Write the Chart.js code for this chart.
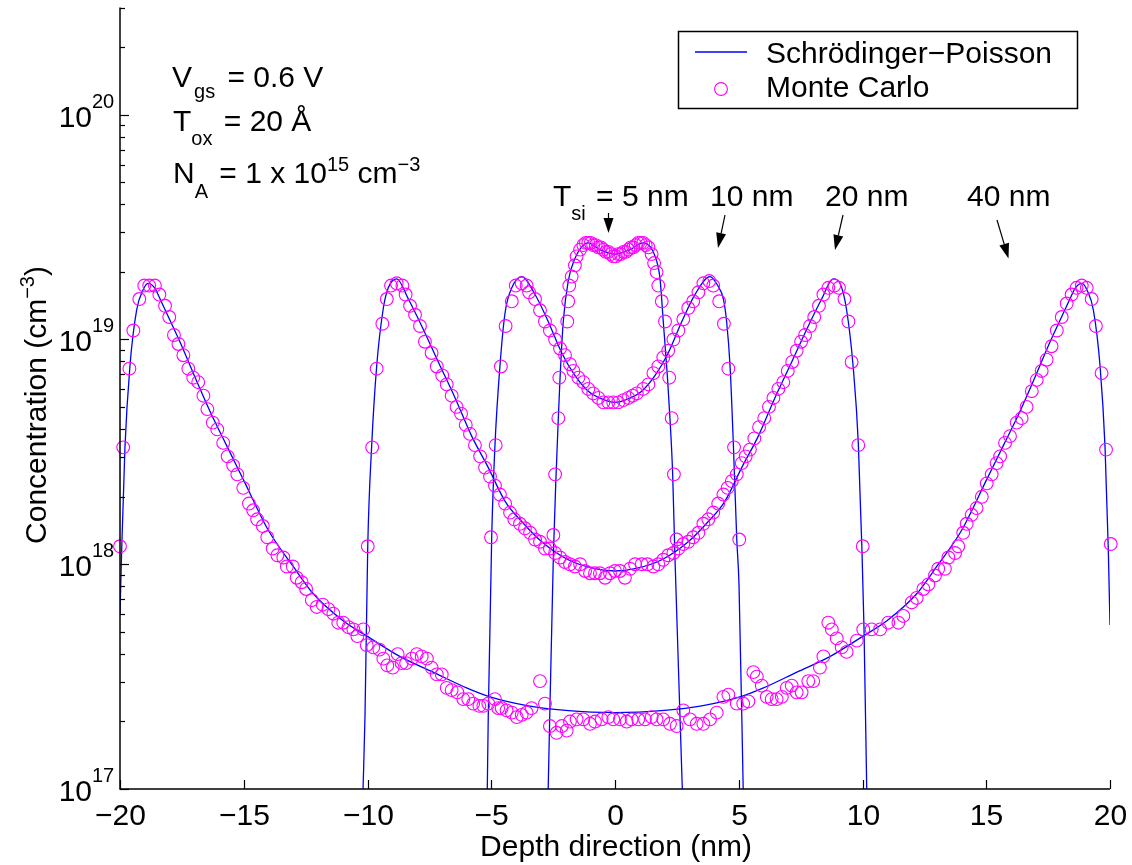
<!DOCTYPE html>
<html>
<head>
<meta charset="utf-8">
<title>Electron concentration vs depth</title>
<script src="https://cdn.jsdelivr.net/npm/chart.js@4.4.1/dist/chart.umd.min.js"></script>
<style>
  html, body { margin: 0; padding: 0; background: #fff; }
  #wrap { width: 1132px; height: 865px; }
</style>
</head>
<body>
<div id="wrap"><canvas id="chart" width="1132" height="865"></canvas></div>
<script>
// Values: [depth (nm), log10 concentration (cm^-3)]

// Schrödinger-Poisson curves, one per silicon thickness
const sp40 = [[-20, 17.78], [-19.93, 18.07], [-19.8, 18.52], [-19.6, 18.88], [-19.33, 19.13], [-19.07, 19.22],
  [-18.87, 19.25], [-18.6, 19.23], [-18.38, 19.18], [-18.0, 19.09], [-17.58, 18.99], [-17.0, 18.84],
  [-16.36, 18.68], [-15.7, 18.53], [-15.03, 18.38], [-14.0, 18.15], [-13.0, 17.99], [-12.2, 17.87],
  [-11.0, 17.75], [-10.02, 17.68], [-8.7, 17.59], [-7.35, 17.52], [-6.0, 17.45], [-5.05, 17.41],
  [-3.5, 17.37], [-2.0, 17.35], [0, 17.34], [2.0, 17.35], [3.5, 17.37], [5.05, 17.41], [6.0, 17.45],
  [7.35, 17.52], [8.7, 17.59], [10.02, 17.68], [11.0, 17.75], [12.2, 17.87], [13.0, 17.99], [14.0, 18.15],
  [15.03, 18.38], [15.7, 18.53], [16.36, 18.68], [17.0, 18.84], [17.58, 18.99], [18.0, 19.09],
  [18.38, 19.18], [18.6, 19.23], [18.87, 19.25], [19.07, 19.22], [19.33, 19.13], [19.6, 18.88],
  [19.8, 18.52], [19.93, 18.07], [20, 17.73]];

const sp20 = [[-10.18, 17.0], [-10.10, 17.33], [-9.99, 18.08], [-9.83, 18.53], [-9.63, 18.88], [-9.36, 19.14],
  [-9.16, 19.23], [-8.82, 19.27], [-8.35, 19.18], [-7.81, 19.06], [-7.14, 18.90], [-6.46, 18.74],
  [-5.79, 18.57], [-5.12, 18.43], [-4.44, 18.28], [-3.77, 18.19], [-2.96, 18.10], [-1.89, 18.02],
  [-0.81, 17.98], [0, 17.97], [0.81, 17.98], [1.89, 18.02], [2.96, 18.10], [3.77, 18.19], [4.44, 18.28],
  [5.12, 18.43], [5.79, 18.57], [6.46, 18.74], [7.14, 18.90], [7.81, 19.06], [8.35, 19.18], [8.82, 19.27],
  [9.09, 19.25], [9.36, 19.13], [9.63, 18.87], [9.83, 18.54], [9.97, 18.09], [10.06, 17.72], [10.17, 17.0]];

const sp10 = [[-5.16, 17.0], [-5.12, 17.33], [-4.98, 18.13], [-4.85, 18.53], [-4.65, 18.88], [-4.44, 19.12],
  [-4.17, 19.23], [-3.77, 19.28], [-3.23, 19.20], [-2.70, 19.08], [-2.15, 18.94], [-1.62, 18.84],
  [-1.08, 18.77], [-0.40, 18.73], [0, 18.72], [0.40, 18.73], [1.08, 18.77], [1.62, 18.84], [2.15, 18.94],
  [2.70, 19.08], [3.23, 19.20], [3.84, 19.28], [4.15, 19.24], [4.38, 19.18], [4.51, 19.08], [4.65, 18.88],
  [4.78, 18.54], [4.92, 18.11], [5.01, 17.91], [5.18, 17.0]];

const sp5 = [[-2.70, 17.0], [-2.49, 18.04], [-2.38, 18.40], [-2.29, 18.65], [-2.22, 18.83], [-2.09, 19.08],
  [-1.89, 19.26], [-1.62, 19.36], [-1.28, 19.42], [-1.08, 19.43], [-0.61, 19.40], [0, 19.38], [0.61, 19.40],
  [1.14, 19.43], [1.62, 19.37], [1.82, 19.27], [1.95, 19.08], [2.12, 18.83], [2.22, 18.65], [2.33, 18.40],
  [2.42, 18.04], [2.72, 17.0]];

// Monte Carlo samples
const mc40 = [[-20.00, 18.08], [-19.87, 18.52], [-19.62, 18.87], [-19.46, 19.04], [-19.22, 19.18], [-19.02, 19.24],
  [-18.82, 19.24], [-18.59, 19.24], [-18.41, 19.20], [-18.18, 19.15], [-18.01, 19.10], [-17.82, 19.02],
  [-17.64, 18.98], [-17.44, 18.93], [-17.24, 18.87], [-17.04, 18.83], [-16.84, 18.81], [-16.63, 18.75],
  [-16.47, 18.69], [-16.25, 18.63], [-16.07, 18.60], [-15.83, 18.54], [-15.65, 18.48], [-15.43, 18.44],
  [-15.26, 18.40], [-15.02, 18.34], [-14.79, 18.27], [-14.62, 18.24], [-14.46, 18.20], [-14.23, 18.17],
  [-14.05, 18.12], [-13.83, 18.07], [-13.64, 18.04], [-13.40, 18.03], [-13.26, 17.99], [-13.02, 17.99],
  [-12.86, 17.94], [-12.66, 17.92], [-12.48, 17.89], [-12.25, 17.84], [-12.05, 17.81], [-11.81, 17.82],
  [-11.58, 17.80], [-11.38, 17.78], [-11.18, 17.74], [-10.98, 17.74], [-10.77, 17.72], [-10.57, 17.71],
  [-10.41, 17.68], [-10.17, 17.71], [-10.03, 17.64], [-9.77, 17.63], [-9.52, 17.62], [-9.36, 17.58],
  [-9.20, 17.55], [-8.98, 17.54], [-8.78, 17.60], [-8.62, 17.56], [-8.44, 17.56], [-8.21, 17.58],
  [-8.01, 17.60], [-7.81, 17.59], [-7.60, 17.58], [-7.41, 17.54], [-7.20, 17.51], [-7.00, 17.51],
  [-6.80, 17.45], [-6.60, 17.44], [-6.37, 17.43], [-6.13, 17.40], [-5.93, 17.40], [-5.73, 17.38],
  [-5.48, 17.37], [-5.32, 17.37], [-5.12, 17.38], [-4.85, 17.40], [-4.72, 17.36], [-4.58, 17.36],
  [-4.38, 17.35], [-4.17, 17.34], [-3.97, 17.32], [-3.77, 17.33], [-3.57, 17.34], [-3.37, 17.36],
  [-3.03, 17.48], [-2.83, 17.38], [-2.63, 17.28], [-2.36, 17.25], [-2.15, 17.28], [-1.95, 17.26],
  [-1.82, 17.30], [-1.55, 17.31], [-1.28, 17.31], [-1.01, 17.29], [-0.81, 17.30], [-0.54, 17.31],
  [-0.27, 17.32], [-0.07, 17.31], [0.20, 17.31], [0.47, 17.30], [0.67, 17.31], [0.94, 17.31],
  [1.21, 17.31], [1.48, 17.32], [1.68, 17.31], [1.95, 17.31], [2.22, 17.29], [2.49, 17.28],
  [2.76, 17.35], [3.03, 17.31], [3.30, 17.29], [3.57, 17.29], [3.84, 17.31], [4.11, 17.34],
  [4.38, 17.41], [4.58, 17.42], [4.92, 17.38], [5.18, 17.38], [5.39, 17.39], [5.59, 17.52],
  [5.73, 17.50], [5.93, 17.46], [6.13, 17.41], [6.33, 17.40], [6.53, 17.40], [6.74, 17.41],
  [6.94, 17.45], [7.14, 17.46], [7.34, 17.43], [7.54, 17.43], [7.81, 17.48], [8.01, 17.48],
  [8.28, 17.54], [8.42, 17.59], [8.62, 17.74], [8.76, 17.71], [8.96, 17.67], [9.16, 17.63],
  [9.36, 17.61], [9.77, 17.66], [10.03, 17.71], [10.37, 17.71], [10.71, 17.71], [11.04, 17.74],
  [11.45, 17.74], [11.65, 17.77], [11.99, 17.83], [12.19, 17.85], [12.46, 17.89], [12.66, 17.91],
  [12.93, 17.95], [13.06, 17.98], [13.33, 17.98], [13.47, 18.03], [13.74, 18.05], [13.87, 18.08],
  [14.07, 18.14], [14.21, 18.18], [14.41, 18.22], [14.61, 18.25], [14.82, 18.30], [15.02, 18.36],
  [15.22, 18.40], [15.42, 18.45], [15.56, 18.48], [15.76, 18.54], [15.96, 18.57], [16.23, 18.63],
  [16.43, 18.65], [16.63, 18.70], [16.84, 18.77], [17.04, 18.82], [17.24, 18.86], [17.44, 18.91],
  [17.64, 18.97], [17.85, 19.04], [18.05, 19.10], [18.25, 19.16], [18.45, 19.20], [18.65, 19.23],
  [18.86, 19.24], [19.06, 19.23], [19.26, 19.18], [19.43, 19.06], [19.66, 18.85], [19.84, 18.51],
  [20.03, 18.09]];

const mc20 = [[-9.99, 18.08], [-9.81, 18.52], [-9.63, 18.87], [-9.40, 19.07], [-9.22, 19.18], [-9.05, 19.24],
  [-8.82, 19.25], [-8.59, 19.24], [-8.46, 19.20], [-8.28, 19.15], [-8.08, 19.11], [-7.88, 19.06],
  [-7.68, 18.99], [-7.41, 18.94], [-7.20, 18.88], [-6.98, 18.84], [-6.80, 18.80], [-6.60, 18.75],
  [-6.40, 18.70], [-6.22, 18.67], [-6.03, 18.62], [-5.86, 18.58], [-5.66, 18.53], [-5.45, 18.48],
  [-5.25, 18.43], [-5.05, 18.39], [-4.85, 18.35], [-4.65, 18.31], [-4.44, 18.27], [-4.24, 18.23],
  [-4.07, 18.20], [-3.84, 18.18], [-3.64, 18.16], [-3.43, 18.14], [-3.23, 18.11], [-3.03, 18.10],
  [-2.83, 18.07], [-2.63, 18.07], [-2.42, 18.05], [-2.22, 18.03], [-2.02, 18.01], [-1.82, 18.00],
  [-1.62, 17.99], [-1.41, 18.00], [-1.21, 17.97], [-1.01, 17.96], [-0.81, 17.96], [-0.61, 17.96],
  [-0.40, 17.94], [-0.20, 17.96], [0.00, 17.97], [0.20, 17.97], [0.40, 17.94], [0.61, 17.98],
  [0.81, 18.00], [1.08, 18.00], [1.31, 18.00], [1.55, 17.99], [1.75, 18.00], [1.95, 18.02],
  [2.15, 18.04], [2.36, 18.05], [2.56, 18.07], [2.76, 18.09], [2.96, 18.10], [3.16, 18.12],
  [3.37, 18.14], [3.57, 18.18], [3.77, 18.20], [3.97, 18.23], [4.17, 18.27], [4.38, 18.31],
  [4.55, 18.34], [4.72, 18.37], [4.92, 18.40], [5.12, 18.45], [5.28, 18.48], [5.45, 18.51],
  [5.63, 18.56], [5.82, 18.61], [6.03, 18.65], [6.22, 18.70], [6.40, 18.74], [6.60, 18.78],
  [6.80, 18.81], [6.98, 18.86], [7.16, 18.90], [7.34, 18.95], [7.52, 18.99], [7.68, 19.02],
  [7.88, 19.06], [8.05, 19.10], [8.24, 19.15], [8.42, 19.20], [8.62, 19.23], [8.86, 19.24],
  [9.05, 19.23], [9.27, 19.18], [9.43, 19.08], [9.56, 18.90], [9.83, 18.53], [10.01, 18.08]];

const mc10 = [[-5.01, 18.12], [-4.82, 18.53], [-4.61, 18.88], [-4.42, 19.06], [-4.17, 19.17], [-4.01, 19.24],
  [-3.77, 19.25], [-3.57, 19.24], [-3.47, 19.21], [-3.23, 19.18], [-3.03, 19.13], [-2.83, 19.08],
  [-2.63, 19.04], [-2.42, 19.00], [-2.22, 18.96], [-2.02, 18.93], [-1.82, 18.89], [-1.68, 18.86],
  [-1.48, 18.83], [-1.28, 18.81], [-1.08, 18.78], [-0.88, 18.76], [-0.67, 18.74], [-0.47, 18.72],
  [-0.27, 18.72], [-0.07, 18.72], [0.13, 18.72], [0.34, 18.73], [0.54, 18.74], [0.71, 18.75],
  [0.88, 18.76], [1.14, 18.78], [1.35, 18.80], [1.55, 18.85], [1.75, 18.88], [1.95, 18.92],
  [2.15, 18.95], [2.36, 19.00], [2.56, 19.04], [2.76, 19.09], [2.96, 19.14], [3.16, 19.17],
  [3.37, 19.21], [3.57, 19.25], [3.81, 19.26], [3.97, 19.24], [4.21, 19.17], [4.40, 19.07],
  [4.58, 18.87], [4.81, 18.52], [5.02, 18.11]];

const mc5 = [[-2.49, 18.13], [-2.42, 18.40], [-2.29, 18.65], [-2.25, 18.83], [-1.93, 19.08], [-1.89, 19.17],
  [-1.85, 19.24], [-1.75, 19.28], [-1.62, 19.33], [-1.55, 19.37], [-1.41, 19.40], [-1.28, 19.42],
  [-1.18, 19.43], [-1.08, 19.43], [-0.98, 19.43], [-0.88, 19.42], [-0.78, 19.42], [-0.67, 19.41],
  [-0.57, 19.41], [-0.47, 19.40], [-0.37, 19.39], [-0.27, 19.39], [-0.17, 19.38], [-0.07, 19.37],
  [0.03, 19.37], [0.13, 19.38], [0.23, 19.38], [0.34, 19.39], [0.44, 19.39], [0.54, 19.40],
  [0.64, 19.41], [0.74, 19.41], [0.84, 19.42], [0.94, 19.43], [1.04, 19.43], [1.14, 19.43],
  [1.24, 19.42], [1.35, 19.41], [1.48, 19.38], [1.58, 19.34], [1.68, 19.30], [1.75, 19.24],
  [1.89, 19.17], [2.02, 19.08], [2.19, 18.83], [2.29, 18.65], [2.38, 18.40], [2.49, 18.11]];

// Axis ticks
const xTicks = [-20, -15, -10, -5, 0, 5, 10, 15, 20];
const yDecades = [17, 18, 19, 20];

const FONT = '"Liberation Sans", Arial, Helvetica, sans-serif';
const BLUE = '#0000ff';
const MAGENTA = '#ff00ff';

function toPoints(pairs) {
    return pairs.map(p => ({ x: p[0], y: Math.pow(10, p[1]) }));
}

function spLine(pairs) {
    return {
        label: 'Schrödinger-Poisson',
        data: toPoints(pairs),
        showLine: true,
        borderColor: BLUE,
        borderWidth: 1.3,
        pointRadius: 0,
        cubicInterpolationMode: 'monotone',
        fill: false
    };
}

function mcPoints(pairs) {
    return {
        label: 'Monte Carlo',
        data: toPoints(pairs),
        showLine: false,
        pointStyle: 'circle',
        pointRadius: 6.4,
        pointBorderWidth: 1.1,
        borderColor: MAGENTA,
        backgroundColor: 'rgba(0,0,0,0)',
        clip: false
    };
}

function setFont(ctx, size) {
    ctx.font = size + 'px ' + FONT;
}

// draw a run of text pieces, each {t, size, dy, dx}
function richText(ctx, x, y, parts) {
    let cx = x;
    parts.forEach(p => {
        setFont(ctx, p.size);
        cx += (p.dx || 0);
        ctx.fillText(p.t, cx, y + (p.dy || 0));
        cx += ctx.measureText(p.t).width;
    });
    return cx;
}

function richWidth(ctx, parts) {
    let w = 0;
    parts.forEach(p => {
        setFont(ctx, p.size);
        w += (p.dx || 0) + ctx.measureText(p.t).width;
    });
    return w;
}

function arrow(ctx, x1, y1, x2, y2) {
    const ang = Math.atan2(y2 - y1, x2 - x1);
    const headLen = 15, headW = 5;
    const bx = x2 - headLen * Math.cos(ang), by = y2 - headLen * Math.sin(ang);
    ctx.beginPath();
    ctx.moveTo(x1, y1);
    ctx.lineTo(bx, by);
    ctx.stroke();
    ctx.beginPath();
    ctx.moveTo(x2, y2);
    ctx.lineTo(bx + headW * Math.sin(ang), by - headW * Math.cos(ang));
    ctx.lineTo(bx - headW * Math.sin(ang), by + headW * Math.cos(ang));
    ctx.closePath();
    ctx.fill();
}

// MATLAB-style axes, labels, annotations and legend
const decorations = {
    id: 'decorations',
    afterDraw(chart) {
        const ctx = chart.ctx;
        const xs = chart.scales.x, ys = chart.scales.y;
        const a = chart.chartArea;
        ctx.save();
        ctx.fillStyle = '#000';
        ctx.strokeStyle = '#000';

        // axis lines
        ctx.lineWidth = 1.5;
        ctx.beginPath();
        ctx.moveTo(a.left, a.top);
        ctx.lineTo(a.left, a.bottom);
        ctx.lineTo(a.right, a.bottom);
        ctx.stroke();

        // y ticks (inward) and labels
        ctx.lineWidth = 1.2;
        yDecades.forEach(n => {
            for (let k = 1; k <= 9; k++) {
                const v = k * Math.pow(10, n);
                if (v > ys.max * 1.0001) break;
                const y = Math.round(ys.getPixelForValue(v)) + 0.5;
                ctx.beginPath();
                ctx.moveTo(a.left, y);
                ctx.lineTo(a.left + (k === 1 ? 9 : 5), y);
                ctx.stroke();
            }
            const y = ys.getPixelForValue(Math.pow(10, n));
            ctx.textBaseline = 'alphabetic';
            ctx.textAlign = 'right';
            setFont(ctx, 30);
            ctx.fillText('10', 92, y + 12);
            ctx.textAlign = 'left';
            setFont(ctx, 20);
            ctx.fillText(String(n), 92, y - 7);
        });

        // x ticks (inward) and labels
        ctx.textAlign = 'center';
        setFont(ctx, 30);
        xTicks.forEach(v => {
            const x = Math.round(xs.getPixelForValue(v)) + 0.5;
            ctx.beginPath();
            ctx.moveTo(x, a.bottom);
            ctx.lineTo(x, a.bottom - 9);
            ctx.stroke();
            ctx.fillText(v < 0 ? '\u2212' + (-v) : String(v), x, 825);
        });

        // axis titles
        ctx.fillText('Depth direction (nm)', 616, 856);
        const yTitle = [{ t: 'Concentration (cm', size: 30 }, { t: '\u22123', size: 20, dy: -12 }, { t: ')', size: 30 }];
        ctx.save();
        ctx.translate(46, 405);
        ctx.rotate(-Math.PI / 2);
        ctx.textAlign = 'left';
        richText(ctx, -richWidth(ctx, yTitle) / 2, 0, yTitle);
        ctx.restore();

        // simulation conditions
        ctx.textAlign = 'left';
        richText(ctx, 172, 87, [{ t: 'V', size: 30 }, { t: 'gs', size: 20, dy: 11, dx: 2 }, { t: ' = 0.6 V', size: 30, dx: 4 }]);
        richText(ctx, 173, 131, [{ t: 'T', size: 30 }, { t: 'ox', size: 20, dy: 14 }, { t: ' = 20 \u00c5', size: 30, dx: 3 }]);
        richText(ctx, 173, 183, [{ t: 'N', size: 30 }, { t: 'A', size: 20, dy: 15 }, { t: ' = 1 x 10', size: 30, dx: 3 },
            { t: '15', size: 20, dy: -12 }, { t: ' cm', size: 30 }, { t: '\u22123', size: 20, dy: -12 }]);

        // thickness labels and arrows
        richText(ctx, 553, 206, [{ t: 'T', size: 30 }, { t: 'si', size: 20, dy: 14 }, { t: ' = 5 nm', size: 30, dx: 2 }]);
        ctx.fillText('10 nm', 710, 206);
        ctx.fillText('20 nm', 825, 206);
        ctx.fillText('40 nm', 967, 206);
        ctx.lineWidth = 1.2;
        arrow(ctx, 608.5, 213, 608.5, 233);
        arrow(ctx, 725, 215, 718, 248);
        arrow(ctx, 843, 215, 835, 250);
        arrow(ctx, 997, 220, 1008.5, 258.5);

        // legend
        ctx.fillStyle = '#fff';
        ctx.fillRect(678, 31, 399, 77);
        ctx.lineWidth = 1.5;
        ctx.strokeRect(678.5, 31.5, 399, 77);
        ctx.strokeStyle = BLUE;
        ctx.lineWidth = 1.3;
        ctx.beginPath();
        ctx.moveTo(695, 52);
        ctx.lineTo(747, 52);
        ctx.stroke();
        ctx.strokeStyle = MAGENTA;
        ctx.lineWidth = 1.1;
        ctx.beginPath();
        ctx.arc(721, 89, 6.4, 0, Math.PI * 2);
        ctx.stroke();
        ctx.fillStyle = '#000';
        setFont(ctx, 30);
        ctx.fillText('Schrödinger\u2212Poisson', 766, 63);
        ctx.fillText('Monte Carlo', 766, 97);

        ctx.restore();
    }
};

function initializeChart() {
    const ctx = document.getElementById('chart').getContext('2d');
    new Chart(ctx, {
        type: 'scatter',
        data: {
            datasets: [
                mcPoints(mc40), mcPoints(mc20), mcPoints(mc10), mcPoints(mc5),
                spLine(sp40), spLine(sp20), spLine(sp10), spLine(sp5)
            ]
        },
        options: {
            responsive: false,
            animation: false,
            layout: { padding: { top: 6, right: 22, left: 0, bottom: 0 } },
            plugins: {
                legend: { display: false },
                tooltip: { enabled: false }
            },
            scales: {
                x: {
                    type: 'linear',
                    min: -20,
                    max: 20,
                    grid: { display: false },
                    border: { display: false },
                    ticks: { display: false },
                    afterFit: scale => { scale.height = 76; }
                },
                y: {
                    type: 'logarithmic',
                    min: 1e17,
                    max: 3e20,
                    grid: { display: false },
                    border: { display: false },
                    ticks: { display: false },
                    afterFit: scale => { scale.width = 120; }
                }
            }
        },
        plugins: [decorations]
    });
}

document.addEventListener('DOMContentLoaded', initializeChart);
</script>
</body>
</html>
